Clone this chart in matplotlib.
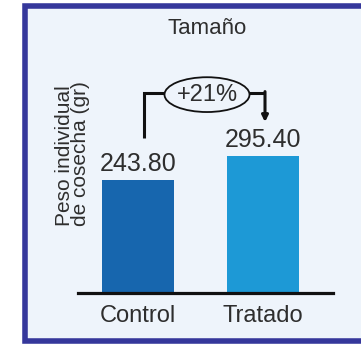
import matplotlib
matplotlib.use("Agg")
import matplotlib.pyplot as plt
from matplotlib.patches import Ellipse, Rectangle

plt.rcParams['font.family'] = ['Liberation Sans', 'DejaVu Sans']

# peso individual de cosecha (gr)
categories = ['Control', 'Tratado']
values = [243.80, 295.40]
bar_colors = ['#1766ae', '#1d99d6']
title = 'Tamaño'
ylabel = 'Peso individual\nde cosecha (gr)'

text_color = '#2e2e2e'
bg = '#eef4fb'

fig = plt.figure(figsize=(3.61, 3.44), dpi=100)
fig.patch.set_facecolor('white')

# marco del panel
frame = Rectangle((24.5 / 361, 3 / 344), 1.1, (341 - 5.5) / 344,
                  transform=fig.transFigure, facecolor=bg,
                  edgecolor='#35379b', linewidth=4, zorder=-5)
fig.add_artist(frame)

ax = fig.add_axes([78 / 361, 51 / 344, 255 / 361, 233 / 344])
ax.set_facecolor('none')
x = range(len(categories))
ax.bar(x, values, width=0.576, color=bar_colors, zorder=2)
ax.set_xlim(-0.48, 1.56)
ax.set_ylim(0, 502)

for s in ['top', 'right', 'left']:
    ax.spines[s].set_visible(False)
ax.spines['bottom'].set_linewidth(2.3)
ax.spines['bottom'].set_color('#111111')
ax.spines['bottom'].set_zorder(3)
ax.set_yticks([])
ax.set_xticks(list(x))
ax.set_xticklabels(categories, fontsize=17, color=text_color)
ax.tick_params(axis='x', length=0, pad=9)

for xi, v in zip(x, values):
    ax.annotate(f'{v:.2f}', (xi, v), xytext=(0, 3), textcoords='offset points',
                ha='center', va='bottom', fontsize=18, color=text_color)

# corchete con el porcentaje de aumento
pct = (values[1] / values[0] - 1) * 100
y_top = values[1] + 136
x_left, x_right = 0.048, 1.016
ax.plot([x_left, x_left, x_right], [values[0] + 90, y_top, y_top],
        color='#111111', lw=2.2, solid_joinstyle='miter', solid_capstyle='butt', zorder=3)
ax.annotate('', xy=(x_right, values[1] + 73), xytext=(x_right, y_top + 2.5),
            arrowprops=dict(arrowstyle='-|>', color='#111111', lw=2.2,
                            mutation_scale=9, shrinkA=0, shrinkB=0), zorder=3)
ax.add_patch(Ellipse((0.552, y_top - 4), 0.68, 75, facecolor=bg,
                     edgecolor='#111111', lw=1.3, zorder=4))
ax.text(0.552, y_top - 4, f'+{pct:.0f}%', ha='center', va='center',
        fontsize=17, color=text_color, zorder=5)

fig.text(207 / 361, 1 - 29 / 344, title, ha='center', va='center',
         fontsize=16, color=text_color)
fig.text(73 / 361, 1 - 153.5 / 344, ylabel, rotation=90, ha='center', va='center',
         multialignment='left', fontsize=15, linespacing=0.8, color=text_color)

fig.savefig('out.png', dpi=100, facecolor=fig.get_facecolor())
